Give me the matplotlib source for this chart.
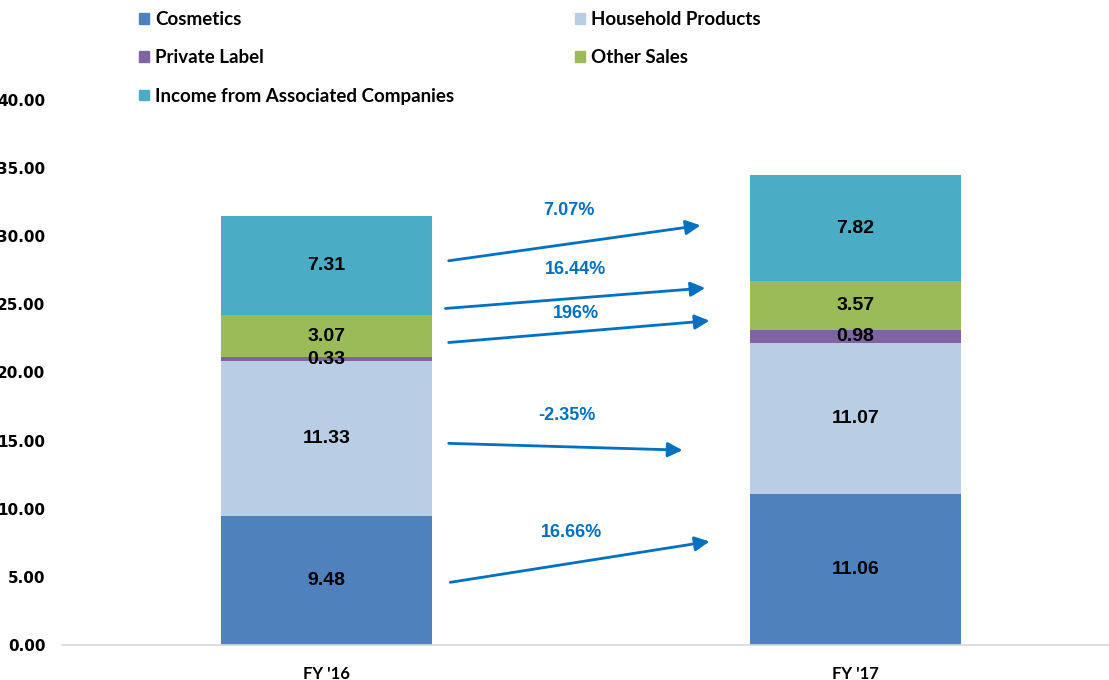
import matplotlib.pyplot as plt
from matplotlib.patches import Patch

# Data
years = ["FY '16", "FY '17"]
segments = ['Cosmetics', 'Household Products', 'Private Label', 'Other Sales',
            'Income from Associated Companies']
cosmetics = [9.48, 11.06]
household = [11.33, 11.07]
private_label = [0.33, 0.98]
other_sales = [3.07, 3.57]
income_assoc = [7.31, 7.82]
colors = ['#4F81BD', '#B9CDE5', '#8064A2', '#9BBB59', '#4BACC6']

# growth arrows (annotation positions in data coords)
growth_labels = ['7.07%', '16.44%', '196%', '-2.35%', '16.66%']
arrow_start = [(0.231, 28.2), (0.225, 24.7), (0.231, 22.2), (0.231, 14.8), (0.234, 4.6)]
arrow_end = [(0.707, 30.8), (0.716, 26.2), (0.724, 23.8), (0.673, 14.3), (0.724, 7.6)]
label_pos = [(0.459, 31.3), (0.47, 26.9), (0.471, 23.7), (0.454, 16.2), (0.463, 7.6)]

fig = plt.figure(figsize=(11.09, 6.80), dpi=100)
ax = fig.add_axes([62 / 1109, 35 / 680, 1058 / 1109, 545 / 680])

series = [cosmetics, household, private_label, other_sales, income_assoc]
x = list(range(len(years)))
bottom = [0.0] * len(years)
for name, vals, c in zip(segments, series, colors):
    ax.bar(x, vals, width=0.4, bottom=bottom, color=c, label=name)
    for xi, v, b in zip(x, vals, bottom):
        ax.text(xi, b + v / 2, f'{v:.2f}', ha='center', va='center',
                fontsize=14, fontweight='bold', family='Liberation Sans', color='black')
    bottom = [b + v for b, v in zip(bottom, vals)]

# arrows with growth rates
for lab, s, e, p in zip(growth_labels, arrow_start, arrow_end, label_pos):
    ax.annotate('', xy=e, xytext=s,
                arrowprops=dict(arrowstyle='-|>', color='#0070C0', lw=2,
                                mutation_scale=22, shrinkA=0, shrinkB=0))
    ax.text(p[0], p[1], lab, ha='center', va='bottom', color='#0070C0',
            fontsize=13, fontweight='bold', family='Liberation Sans')

ax.set_xlim(-0.5, 1.5)
ax.set_ylim(0, 40)
ax.set_yticks(range(0, 41, 5))
ax.set_yticklabels([f'{v:.2f}' for v in range(0, 41, 5)], fontsize=11,
                   fontweight='bold', family='DejaVu Sans')
ax.set_xticks(x)
ax.set_xticklabels(years, fontsize=12, fontweight='bold', family='Lato')
ax.tick_params(axis='both', length=0)
ax.tick_params(axis='x', pad=15)
ax.tick_params(axis='y', pad=12)
for sp in ['top', 'right', 'left']:
    ax.spines[sp].set_visible(False)
ax.spines['bottom'].set_color('#D9D9D9')
ax.spines['bottom'].set_linewidth(1.2)

# legend, two columns filled row by row
handles = [Patch(color=c) for c in colors]
order = [0, 2, 4, 1, 3]
fig.legend([handles[i] for i in order], [segments[i] for i in order],
           loc='upper left', bbox_to_anchor=(128 / 1109, 1.0), ncol=2, frameon=False,
           prop={'family': 'Lato', 'weight': 'bold', 'size': 13.5},
           handlelength=0.5, handleheight=0.5, handletextpad=0.35,
           columnspacing=6.45, labelspacing=1.13, borderaxespad=0.2)

fig.savefig('out.png', dpi=100)
